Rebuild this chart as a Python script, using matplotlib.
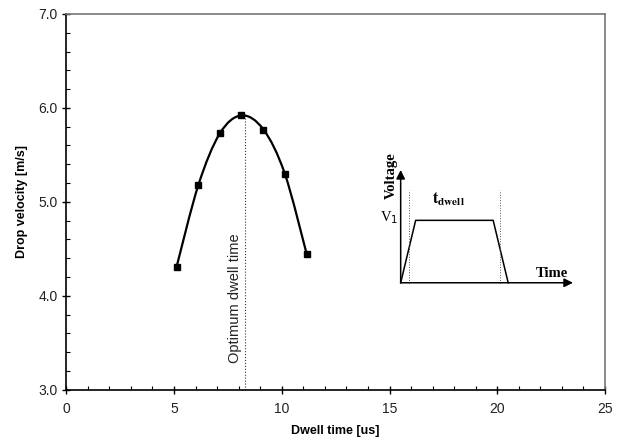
import numpy as np
import matplotlib.pyplot as plt
from matplotlib.path import Path
from matplotlib.patches import PathPatch
from matplotlib.ticker import MultipleLocator, FormatStrFormatter

plt.rcParams['font.family'] = ['Liberation Sans', 'DejaVu Sans']

# measured drop velocity vs dwell time
dwell_time = [5.12, 6.13, 7.13, 8.13, 9.15, 10.14, 11.15]
velocity = [4.31, 5.18, 5.73, 5.92, 5.77, 5.30, 4.45]
optimum_dwell = 8.27

# pulse schematic (arbitrary units)
pulse_t = [0.0, 0.87, 5.37, 6.24]
pulse_v = [0.0, 3.62, 3.62, 0.0]
dwell_marks = [0.48, 5.78]
dwell_mark_top = 5.38
time_axis_end = 10.0
volt_axis_end = 6.54

fig = plt.figure(figsize=(6.17, 4.41), dpi=100)
ax = fig.add_axes([66.3 / 617, 1 - 389.7 / 441, (605 - 66.3) / 617, (389.7 - 14) / 441])

# smoothed line through the points (Excel-like Catmull-Rom bezier)
pts = np.column_stack([dwell_time, velocity])
ext = np.vstack([pts[0], pts, pts[-1]])
verts = [tuple(pts[0])]
codes = [Path.MOVETO]
for i in range(1, len(ext) - 2):
    p0, p1, p2, p3 = ext[i - 1], ext[i], ext[i + 1], ext[i + 2]
    c1 = p1 + (p2 - p0) / 6
    c2 = p2 - (p3 - p1) / 6
    verts += [tuple(c1), tuple(c2), tuple(p2)]
    codes += [Path.CURVE4] * 3
ax.add_patch(PathPatch(Path(verts, codes), facecolor='none', edgecolor='black', lw=1.6, zorder=3))
ax.plot(dwell_time, velocity, ls='none', marker='s', ms=4.5, color='black', zorder=4)

peak = max(velocity)
ax.plot([optimum_dwell, optimum_dwell], [3.0, peak], ls=':', color='#333333', lw=0.8, zorder=2)
ax.text(optimum_dwell - 0.12, 3.97, 'Optimum dwell time', rotation=90,
        ha='right', va='center', fontsize=10.5, color='#222222')

ax.set_xlim(0, 25)
ax.set_ylim(3.0, 7.0)
ax.xaxis.set_major_locator(MultipleLocator(5))
ax.xaxis.set_minor_locator(MultipleLocator(1))
ax.yaxis.set_major_locator(MultipleLocator(1))
ax.yaxis.set_minor_locator(MultipleLocator(0.2))
ax.yaxis.set_major_formatter(FormatStrFormatter('%.1f'))
ax.tick_params(which='major', direction='inout', length=6, width=1, labelsize=10,
               colors='black', labelcolor='#222222')
ax.tick_params(which='minor', direction='in', length=3, width=0.8)
ax.tick_params(axis='x', pad=6)
ax.tick_params(axis='y', pad=3)
for s in ['left', 'bottom']:
    ax.spines[s].set_linewidth(1.2)
for s in ['top', 'right']:
    ax.spines[s].set_color('#777777')
    ax.spines[s].set_linewidth(1.2)

ax.set_xlabel('Dwell time [us]', fontsize=9, fontweight='bold', labelpad=6)
ax.set_ylabel('Drop velocity [m/s]', fontsize=9, fontweight='bold', labelpad=8)

# inset pulse diagram
ins = fig.add_axes([380 / 617, 1 - 295 / 441, 210 / 617, 155 / 441])
ins.set_xlim(-1.2, 10.99)
ins.set_ylim(-0.71, 8.28)
ins.axis('off')
ins.plot(pulse_t, pulse_v, color='black', lw=1.1)
for xm in dwell_marks:
    ins.plot([xm, xm], [0, dwell_mark_top], ls=':', color='#555555', lw=0.7)
arrow = dict(arrowstyle='-|>', color='black', lw=1.1, mutation_scale=13, shrinkA=0, shrinkB=0)
ins.annotate('', xy=(time_axis_end, 0), xytext=(0, 0), arrowprops=arrow)
ins.annotate('', xy=(0, volt_axis_end), xytext=(0, 0), arrowprops=arrow)

serif = ['Liberation Serif', 'DejaVu Serif']
ins.text(-0.52, 6.19, 'Voltage', rotation=90, ha='center', va='center',
         fontsize=10.5, fontweight='bold', family=serif)
ins.text(-0.68, 3.75, r'V$_1$', ha='center', va='center', fontsize=10.5, family=serif)
ins.text(2.75, 4.86, r'$\mathbf{t_{dwell}}$', ha='center', va='center', fontsize=11.5,
         math_fontfamily='stix')
ins.text(8.78, 0.56, 'Time', ha='center', va='center', fontsize=10.5,
         fontweight='bold', family=serif)

fig.savefig('out.png', dpi=100)
